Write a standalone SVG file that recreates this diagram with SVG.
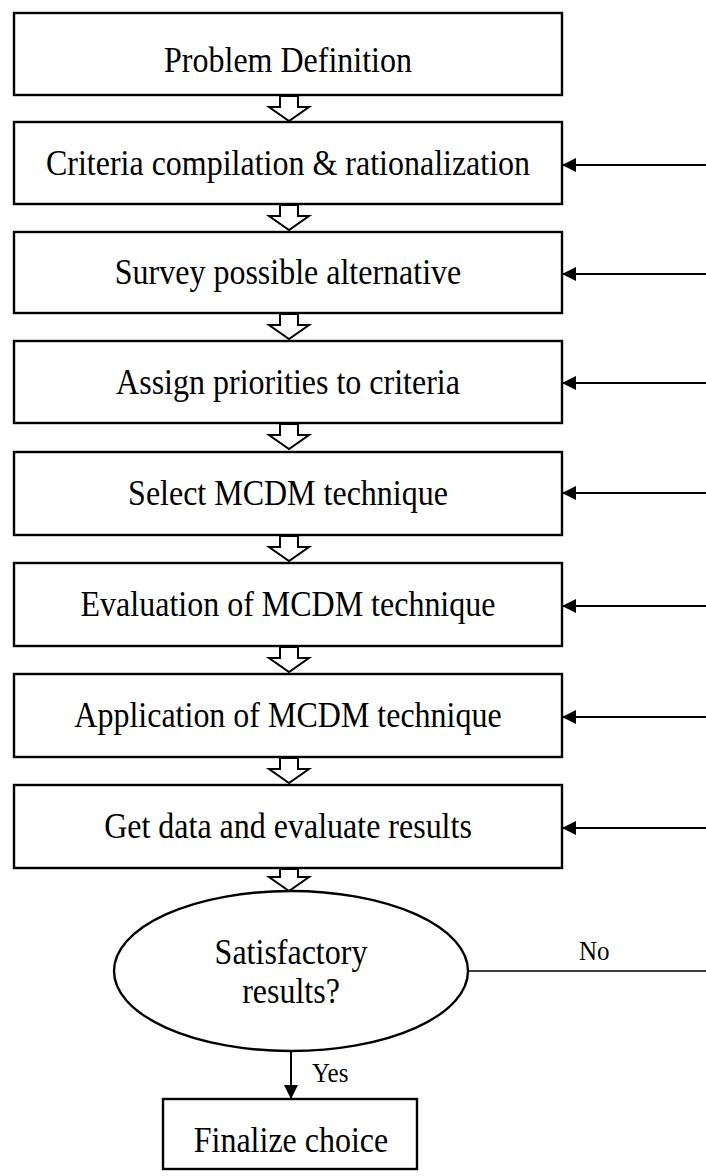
<svg xmlns="http://www.w3.org/2000/svg" width="706" height="1176" viewBox="0 0 706 1176">
<style>
.box{fill:#fff;stroke:#000;stroke-width:2.4}
.t{font-family:"Liberation Serif","Times New Roman",serif;font-size:32px;fill:#000;text-anchor:middle}
.s{font-family:"Liberation Serif","Times New Roman",serif;font-size:25px;fill:#000}
.ln{stroke:#000;stroke-width:2;fill:none}
.hollow{fill:#fff;stroke:#000;stroke-width:2;stroke-linejoin:miter}
</style>
<defs>
<marker id="ah" markerWidth="14" markerHeight="14" viewBox="0 0 14 14" refX="13" refY="7" orient="auto" markerUnits="userSpaceOnUse">
<path d="M0,0 L14,7 L0,14 Z" fill="#000"/>
</marker>
</defs>
<rect width="706" height="1176" fill="#fff"/>
<g id="connectors">
<path class="hollow" d="M280,96 h18 v11 h11 l-20,14 l-20,-14 h11 Z"/>
<path class="hollow" d="M280,205 h18 v11 h11 l-20,14 l-20,-14 h11 Z"/>
<path class="hollow" d="M280,314 h18 v11 h11 l-20,14 l-20,-14 h11 Z"/>
<path class="hollow" d="M280,424 h18 v11 h11 l-20,14 l-20,-14 h11 Z"/>
<path class="hollow" d="M280,536 h18 v11 h11 l-20,14 l-20,-14 h11 Z"/>
<path class="hollow" d="M280,647 h18 v11 h11 l-20,14 l-20,-14 h11 Z"/>
<path class="hollow" d="M280,758 h18 v11 h11 l-20,14 l-20,-14 h11 Z"/>
<path class="hollow" d="M280,869 h18 v8 h11 l-20,14 l-20,-14 h11 Z"/>
<line class="ln" x1="706" y1="165" x2="563" y2="165" marker-end="url(#ah)"/>
<line class="ln" x1="706" y1="274" x2="563" y2="274" marker-end="url(#ah)"/>
<line class="ln" x1="706" y1="383" x2="563" y2="383" marker-end="url(#ah)"/>
<line class="ln" x1="706" y1="493" x2="563" y2="493" marker-end="url(#ah)"/>
<line class="ln" x1="706" y1="606" x2="563" y2="606" marker-end="url(#ah)"/>
<line class="ln" x1="706" y1="717" x2="563" y2="717" marker-end="url(#ah)"/>
<line class="ln" x1="706" y1="828" x2="563" y2="828" marker-end="url(#ah)"/>
<line x1="468" y1="971" x2="706" y2="971" stroke="#000" stroke-width="1.3"/>
<text class="s" transform="translate(579,960) scale(1,1.1)">No</text>
<line class="ln" x1="291" y1="1051" x2="291" y2="1098" marker-end="url(#ah)"/>
<text class="s" transform="translate(312,1082) scale(1,1.1)">Yes</text>
</g>
<g id="n1"><rect class="box" x="14" y="13" width="548" height="82"/><text class="t" transform="translate(288,72) scale(1,1.1)">Problem Definition</text></g>
<g id="n2"><rect class="box" x="14" y="122" width="548" height="82"/><text class="t" transform="translate(288,175) scale(1,1.1)">Criteria compilation &amp; rationalization</text></g>
<g id="n3"><rect class="box" x="14" y="232" width="548" height="81"/><text class="t" transform="translate(288,284) scale(1,1.1)">Survey possible alternative</text></g>
<g id="n4"><rect class="box" x="14" y="341" width="548" height="82"/><text class="t" transform="translate(288,394) scale(1,1.1)">Assign priorities to criteria</text></g>
<g id="n5"><rect class="box" x="14" y="452" width="548" height="83"/><text class="t" transform="translate(288,505) scale(1,1.1)">Select MCDM technique</text></g>
<g id="n6"><rect class="box" x="14" y="563" width="548" height="83"/><text class="t" transform="translate(288,616) scale(1,1.1)">Evaluation of MCDM technique</text></g>
<g id="n7"><rect class="box" x="14" y="674" width="548" height="83"/><text class="t" transform="translate(288,727) scale(1,1.1)">Application of MCDM technique</text></g>
<g id="n8"><rect class="box" x="14" y="785" width="548" height="83"/><text class="t" transform="translate(288,838) scale(1,1.1)">Get data and evaluate results</text></g>
<g id="n9"><ellipse class="box" cx="291" cy="971" rx="177" ry="80"/><text class="t" transform="translate(291,964) scale(1,1.1)">Satisfactory</text><text class="t" transform="translate(291,1003) scale(1,1.1)">results?</text></g>
<g id="n10"><rect class="box" x="163" y="1099" width="254" height="70"/><text class="t" transform="translate(291,1152) scale(1,1.1)">Finalize choice</text></g>
</svg>
